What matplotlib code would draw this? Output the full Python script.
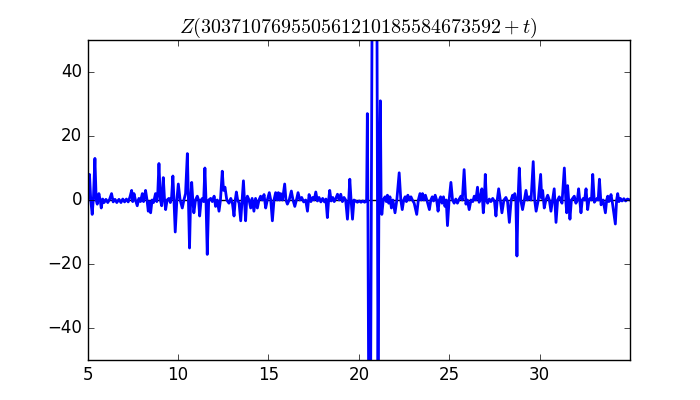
import matplotlib
matplotlib.use('Agg')
import matplotlib.pyplot as plt
import numpy as np

plt.style.use('classic')

# values, one block per 5 units of t
t_05 = [5.00, 5.05, 5.11, 5.18, 5.26, 5.33, 5.41, 5.48, 5.54, 5.63, 5.70, 5.76, 5.84, 5.92,
        6.02, 6.12, 6.22, 6.33, 6.42, 6.52, 6.62, 6.74, 6.85, 6.95, 7.05, 7.15, 7.25, 7.35,
        7.44, 7.50, 7.57, 7.65, 7.75, 7.84, 7.93, 8.03, 8.10, 8.15, 8.21, 8.29, 8.36, 8.43,
        8.49, 8.57, 8.65, 8.76, 8.83, 8.88, 8.95, 9.03, 9.10, 9.19, 9.26, 9.32, 9.40, 9.50,
        9.58, 9.65, 9.72, 9.78, 9.85, 9.94]
z_05 = [-1.0, 2.0, 8.0, 0.0, -4.5, 1.0, 13.0, 0.0, -1.3, 2.0, 0.0, -2.5, 0.3, -0.8,
        0.2, -0.8, 0.2, 2.0, -0.6, 0.2, -0.8, 0.2, -0.8, 0.3, -0.6, 0.3, -0.6, 1.0,
        3.0, -0.5, 2.0, 0.0, -1.8, 0.5, -0.5, 2.0, -0.5, 1.0, 3.0, 0.0, -3.5, -0.5,
        -4.0, 0.0, -0.8, 2.0, -0.5, 1.5, 11.4, 0.0, -1.8, 7.0, 0.0, -3.0, 0.0, 0.5,
        -0.8, 1.0, 7.5, 0.0, -10.0, 0.0]

t_10 = [10.02, 10.12, 10.24, 10.33, 10.42, 10.52, 10.58, 10.64, 10.70, 10.76, 10.82, 10.88,
        10.97, 11.07, 11.14, 11.20, 11.28, 11.35, 11.42, 11.49, 11.55, 11.62, 11.70, 11.81,
        11.90, 12.00, 12.08, 12.17, 12.27, 12.35, 12.45, 12.52, 12.60, 12.70, 12.82, 12.92,
        13.01, 13.10, 13.17, 13.23, 13.30, 13.38, 13.47, 13.55, 13.62, 13.68, 13.74, 13.80,
        13.84, 13.93, 14.02, 14.10, 14.20, 14.29, 14.39, 14.48, 14.57, 14.66, 14.76, 14.85,
        14.94]
z_10 = [5.0, 0.0, -2.5, 0.0, 2.0, 14.5, 0.0, -15.0, 0.0, 5.5, 0.0, -4.0,
        0.0, 1.2, 0.0, -5.0, 0.0, 0.5, -0.5, 10.0, 0.0, -17.0, 0.0, 0.5,
        -0.5, 1.2, -2.0, 0.0, -3.5, 0.0, 9.0, 3.0, 4.0, 0.0, -1.0, 0.5,
        -1.0, -5.0, 0.0, 2.5, 0.0, -1.0, -6.5, 0.0, 6.0, 0.0, -6.5, 0.0,
        1.2, 0.0, -2.5, 0.5, -3.5, 0.5, -2.5, 0.0, 1.2, 0.0, 1.7, -2.5,
        0.0]

t_15 = [15.05, 15.13, 15.22, 15.31, 15.40, 15.48, 15.55, 15.62, 15.68, 15.78, 15.90, 15.97,
        16.05, 16.15, 16.27, 16.36, 16.46, 16.55, 16.64, 16.74, 16.84, 16.95, 17.06, 17.16,
        17.25, 17.35, 17.44, 17.53, 17.62, 17.71, 17.80, 17.90, 18.00, 18.10, 18.18, 18.26,
        18.33, 18.39, 18.47, 18.56, 18.64, 18.73, 18.82, 18.91, 19.00, 19.09, 19.18, 19.27,
        19.37, 19.44, 19.50, 19.57, 19.65, 19.73, 19.82, 19.92, 20.02, 20.12, 20.22, 20.32,
        20.40, 20.43, 20.47, 20.50, 20.54, 20.60, 20.65, 20.69, 20.73, 20.87, 21.00, 21.03,
        21.06, 21.11, 21.19, 21.23, 21.27, 21.35, 21.45, 21.52, 21.58, 21.65, 21.72, 21.80,
        21.88, 22.00, 22.10, 22.23, 22.32, 22.40, 22.48, 22.56, 22.63, 22.71, 22.79, 22.88,
        22.96, 23.06, 23.20, 23.29, 23.38, 23.45, 23.52, 23.60, 23.68, 23.76, 23.90, 23.98,
        24.06, 24.13, 24.22, 24.30, 24.38, 24.45, 24.52, 24.60, 24.68, 24.76, 24.83]
z_15 = [2.3, 0.0, -6.5, 0.0, 2.3, 0.0, 2.3, 0.0, 2.0, 0.0, 5.0, 0.0,
        -1.3, 0.0, 2.8, 0.0, -2.0, 0.0, 2.3, 0.0, 0.8, -0.6, 0.0, -3.5,
        1.7, -0.5, 0.8, 0.0, 2.5, -0.3, 0.8, -0.6, 0.5, -0.6, 0.3, -5.5,
        0.0, 3.0, -0.3, 0.8, -0.5, 0.5, 1.8, 0.0, 1.8, -0.5, 0.8, 0.0,
        -6.0, 0.0, 6.5, 0.0, -6.0, 0.0, -0.3, -0.7, -0.3, -0.7, -0.3, -0.7,
        -0.3, 0.0, 27.0, 0.0, -60.0, -90.0, -60.0, 0.0, 60.0, 150.0, 60.0, 0.0,
        -60.0, 0.0, 31.0, 0.0, -4.5, 0.0, 1.0, -0.5, 1.5, -1.0, 1.0, -2.5,
        0.0, -4.0, 0.0, 8.5, 0.0, -3.0, 0.0, 1.0, -0.5, 1.5, 0.0, 1.0,
        0.0, -1.0, -4.5, 0.0, 2.0, 0.0, 2.0, 0.0, 1.5, 0.0, -3.0, 0.0,
        1.0, -0.3, 1.5, 0.0, -3.5, 0.0, 1.0, -1.0, 1.0, -2.0, 0.0]

t_25 = [24.90, 24.99, 25.09, 25.18, 25.27, 25.36, 25.45, 25.55, 25.64, 25.72, 25.82, 25.92,
        26.00, 26.10, 26.20, 26.30, 26.38, 26.47, 26.56, 26.65, 26.72, 26.80, 26.88, 26.94,
        26.99, 27.05, 27.12, 27.21, 27.30, 27.40, 27.50, 27.58, 27.65, 27.73, 27.82, 27.91,
        28.02, 28.13, 28.22, 28.32, 28.42, 28.50, 28.56, 28.62, 28.68, 28.74, 28.80, 28.87,
        28.95, 29.05, 29.15, 29.24, 29.32, 29.42, 29.52, 29.64, 29.72, 29.80, 29.92]
z_25 = [-8.0, 0.0, 5.5, 0.0, -1.0, 0.3, -1.0, 0.3, 1.2, 0.0, 9.5, -1.3,
        0.0, -3.0, 0.0, -0.5, 1.2, 0.0, 4.0, -0.7, 0.5, 3.5, -4.0, 0.0,
        8.0, 0.0, -1.0, 0.3, -0.5, 0.5, -0.5, -5.0, 0.0, 3.5, 0.0, -4.0,
        0.0, 0.8, -0.5, -7.0, 0.0, 1.5, 0.5, 2.0, 0.0, -17.5, 0.0, 10.0,
        0.0, -3.0, 0.0, 3.0, 0.0, 1.0, 0.0, 12.0, 0.0, -3.5, 0.0]

t_30 = [30.05, 30.11, 30.16, 30.25, 30.34, 30.44, 30.53, 30.62, 30.71, 30.80, 30.90, 30.99,
        31.08, 31.16, 31.23, 31.36, 31.44, 31.49, 31.54, 31.60, 31.67, 31.75, 31.82, 31.91,
        32.00, 32.08, 32.15, 32.28, 32.35, 32.41, 32.48, 32.56, 32.65, 32.72, 32.78, 32.86,
        32.93, 33.02, 33.10, 33.17, 33.23, 33.30, 33.39, 33.50, 33.63, 33.70, 33.76, 33.82,
        33.88, 33.94, 34.02, 34.18, 34.25, 34.31, 34.38, 34.46, 34.55, 34.65, 34.75, 34.85,
        34.99]
z_30 = [8.0, 0.5, 3.0, -2.5, 0.0, 1.5, 0.0, -3.5, 0.0, 3.5, -7.0, 0.0,
        1.0, 0.0, -1.0, 10.0, 0.0, -4.0, 4.5, 0.0, -6.0, 0.0, 0.5, 1.2,
        -1.0, 0.0, 3.5, -4.0, 0.0, 0.5, 0.0, 3.5, -3.0, 0.0, 0.5, 0.0,
        8.0, -0.7, 0.0, 0.5, 0.0, 6.5, -1.5, 0.0, -4.0, 0.0, 1.2, -0.5,
        0.0, 1.7, -1.0, -7.5, 0.0, 2.0, -0.5, 0.5, -0.3, 0.4, -0.3, 0.3,
        0.0]

t = np.array(t_05 + t_10 + t_15 + t_25 + t_30)
z = np.array(z_05 + z_10 + z_15 + z_25 + z_30)

plt.figure(figsize=(7, 4), dpi=100)
plt.axhline(0, color='k', zorder=1)
plt.plot(t, z, 'b', linewidth=2, zorder=2)
plt.xlim(5, 34.99)
plt.ylim(-50, 50)
plt.title(r'$Z(303710769550561210185584673592+t)$')
plt.savefig('out.png', dpi=100)
